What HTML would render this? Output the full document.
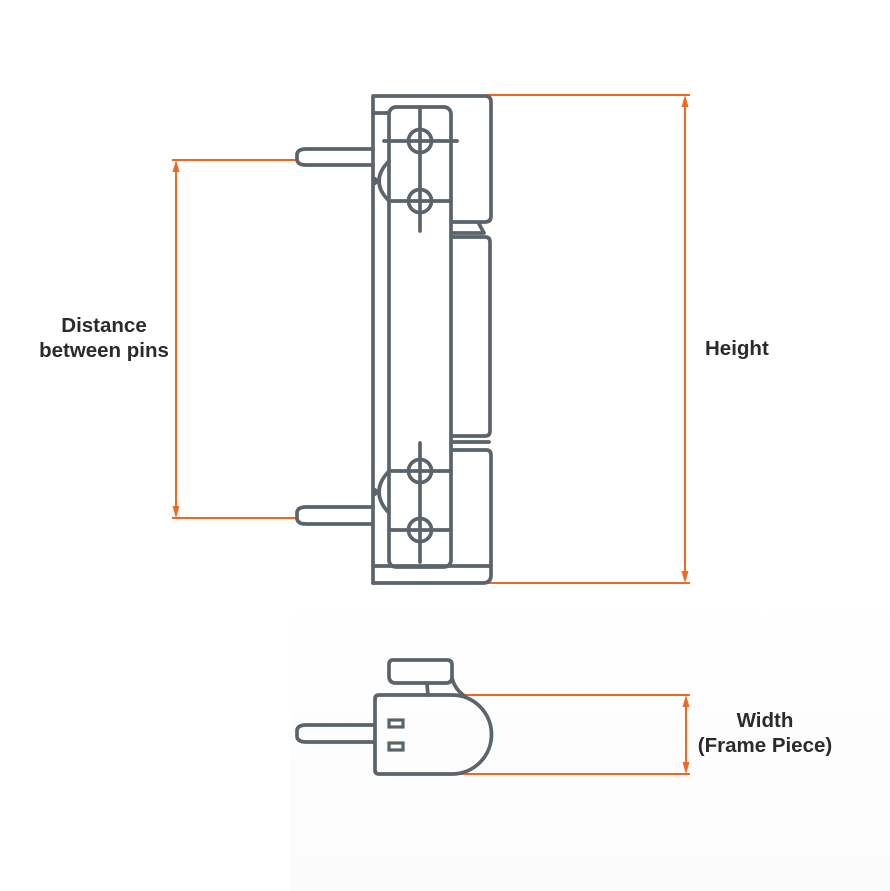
<!DOCTYPE html>
<html>
<head>
<meta charset="utf-8">
<style>
  html, body { margin: 0; padding: 0; background: #ffffff; }
  svg { display: block; }
  .g { fill: none; stroke: #5b646c; stroke-width: 3.7; stroke-linejoin: round; stroke-linecap: round; }
  .o { fill: none; stroke: #f2661f; stroke-width: 2; }
  .t { font-family: "Liberation Sans", sans-serif; font-weight: bold; font-size: 20.5px; fill: #2b2b2b; }
</style>
</head>
<body>
<svg width="890" height="891" viewBox="0 0 890 891" xmlns="http://www.w3.org/2000/svg">
  <defs>
    <linearGradient id="bg" x1="0" y1="0" x2="0" y2="1">
      <stop offset="0" stop-color="#ffffff"/>
      <stop offset="1" stop-color="#fbfbfb"/>
    </linearGradient>
  </defs>
  <rect x="0" y="0" width="890" height="891" fill="#ffffff"/>
  <rect x="290" y="590" width="600" height="301" fill="url(#bg)"/>

  <!-- ========== Orange dimension lines ========== -->
  <!-- Distance between pins -->
  <line class="o" x1="172" y1="160" x2="296" y2="160"/>
  <line class="o" x1="172" y1="518" x2="296" y2="518"/>
  <line class="o" x1="176" y1="166" x2="176" y2="512"/>
  <polygon points="176,160 172.5,172 179.5,172" fill="#f2661f"/>
  <polygon points="176,518 172.5,506 179.5,506" fill="#f2661f"/>

  <!-- Height -->
  <line class="o" x1="486" y1="95" x2="690" y2="95"/>
  <line class="o" x1="476" y1="583" x2="690" y2="583"/>
  <line class="o" x1="685" y1="101" x2="685" y2="577"/>
  <polygon points="685,95 681.5,107 688.5,107" fill="#f2661f"/>
  <polygon points="685,583 681.5,571 688.5,571" fill="#f2661f"/>

  <!-- Width -->
  <line class="o" x1="462" y1="695" x2="690" y2="695"/>
  <line class="o" x1="452" y1="774" x2="690" y2="774"/>
  <line class="o" x1="686" y1="701" x2="686" y2="768"/>
  <polygon points="686,695 682.5,707 689.5,707" fill="#f2661f"/>
  <polygon points="686,774 682.5,762 689.5,762" fill="#f2661f"/>

  <!-- ========== Front view hinge ========== -->
  <path class="g" d="M373,583 V96 H485 Q491,96 491,102 V216 Q491,222 485,222 H452"/>
  <line class="g" x1="373" y1="113" x2="389" y2="113"/>
  <rect class="g" x="389" y="107" width="62" height="460" rx="7" ry="7"/>
  <path class="g" d="M478,222 L484,233 H452"/>
  <path class="g" d="M452,237 H485 Q490,237 490,242 V431 Q490,436 485,436 H452"/>
  <line class="g" x1="452" y1="442" x2="489" y2="442"/>
  <path class="g" d="M452,450 H486 Q491,450 491,455 V566"/>
  <path class="g" d="M373,566 H491 V575 Q491,583 483,583 H373"/>

  <!-- pins -->
  <path class="g" d="M373,149 H306 Q298,149 297,154 V160 Q298,165 306,165 H373"/>
  <path class="g" d="M373,507 H306 Q298,507 297,512 V519 Q298,524 306,524 H373"/>

  <!-- knuckle bumps -->
  <path class="g" d="M389,161 Q369,181 389,201"/>
  <path class="g" d="M389,471 Q369,492 389,513"/>
  <polygon points="374,176 381,181 374,186" fill="#5b646c"/>
  <polygon points="374,487 381,492 374,497" fill="#5b646c"/>

  <!-- screw holes top -->
  <line class="g" x1="420" y1="107" x2="420" y2="231"/>
  <line class="g" x1="384" y1="141" x2="457" y2="141"/>
  <circle class="g" cx="420" cy="141" r="11.5"/>
  <line class="g" x1="389" y1="201" x2="451" y2="201"/>
  <circle class="g" cx="420" cy="201" r="11.5"/>

  <!-- screw holes bottom -->
  <line class="g" x1="420" y1="443" x2="420" y2="562"/>
  <line class="g" x1="389" y1="471" x2="451" y2="471"/>
  <circle class="g" cx="420" cy="471" r="11.5"/>
  <line class="g" x1="389" y1="530" x2="451" y2="530"/>
  <circle class="g" cx="420" cy="530" r="11.5"/>

  <!-- ========== Top view (frame piece) ========== -->
  <path class="g" d="M393,660 H447 Q452,660 452,665 V677 Q452,683 446,683 H396 Q389,683 389,676 V665 Q389,660 393,660 Z"/>
  <line class="g" x1="427" y1="684" x2="428" y2="695"/>
  <path class="g" d="M452,678 Q455,690 466,697"/>
  <path class="g" d="M379,695 H452 A39.5,39.5 0 0 1 452,774 H379 Q375,774 375,770 V699 Q375,695 379,695 Z"/>
  <rect x="389" y="720" width="14" height="7" fill="none" stroke="#5b646c" stroke-width="3.2"/>
  <rect x="389" y="743" width="14" height="7" fill="none" stroke="#5b646c" stroke-width="3.2"/>
  <path class="g" d="M375,725 H306 Q298,725 297,730 V737 Q298,742 306,742 H375"/>

  <!-- ========== Labels ========== -->
  <text class="t" x="104" y="332" text-anchor="middle">Distance</text>
  <text class="t" x="104" y="357" text-anchor="middle">between pins</text>
  <text class="t" x="705" y="355">Height</text>
  <text class="t" x="765" y="727" text-anchor="middle">Width</text>
  <text class="t" x="765" y="752" text-anchor="middle">(Frame Piece)</text>
</svg>
</body>
</html>
